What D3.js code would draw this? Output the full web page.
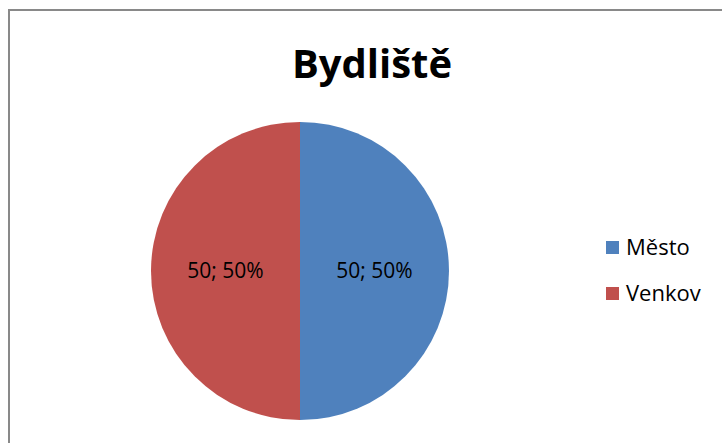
<!DOCTYPE html>
<html><head><meta charset="utf-8">
<script src="https://cdn.jsdelivr.net/npm/d3@7"></script>
<style>body{margin:0;background:#fff}svg{display:block}</style>
</head><body>
<script>
const categories = ["Město", "Venkov"];
const values = [50, 50];
const colors = ["#4F81BD", "#C0504D"];
const title = "Bydliště";

const W = 722, H = 443;
const svg = d3.select("body").append("svg").attr("width", W).attr("height", H);
svg.append("rect").attr("x", 9).attr("y", 10).attr("width", W + 10).attr("height", H + 10)
  .attr("fill", "#fff").attr("stroke", "#898989").attr("stroke-width", 2);

svg.append("text").attr("x", 372).attr("y", 78).attr("text-anchor", "middle")
  .attr("font-family", "Open Sans, sans-serif").attr("font-weight", "bold")
  .attr("font-size", 40).attr("fill", "#000").text(title);

const cx = 300, cy = 271, r = 149;
const total = d3.sum(values);
const pie = d3.pie().sort(null)(values);
const arc = d3.arc().innerRadius(0).outerRadius(r);
const labelArc = d3.arc().innerRadius(r / 2).outerRadius(r / 2);
const g = svg.append("g").attr("transform", `translate(${cx},${cy})`);
g.selectAll("path").data(pie).join("path").attr("d", arc).attr("fill", (d, i) => colors[i]);
g.selectAll("text").data(pie).join("text")
  .attr("transform", d => `translate(${labelArc.centroid(d)})`)
  .attr("text-anchor", "middle").attr("dy", "0.35em")
  .attr("font-family", "Open Sans, sans-serif").attr("font-size", 21).attr("fill", "#000")
  .text(d => `${d.value}; ${Math.round(d.value / total * 100)}%`);

const leg = svg.append("g");
categories.forEach((c, i) => {
  const y = 247 + i * 46;
  leg.append("rect").attr("x", 606).attr("y", y - 6).attr("width", 13).attr("height", 13).attr("fill", colors[i]);
  leg.append("text").attr("x", 626).attr("y", y).attr("dy", "0.35em")
    .attr("font-family", "Open Sans, sans-serif").attr("font-size", 22).attr("fill", "#000").text(c);
});
</script>
</body></html>
